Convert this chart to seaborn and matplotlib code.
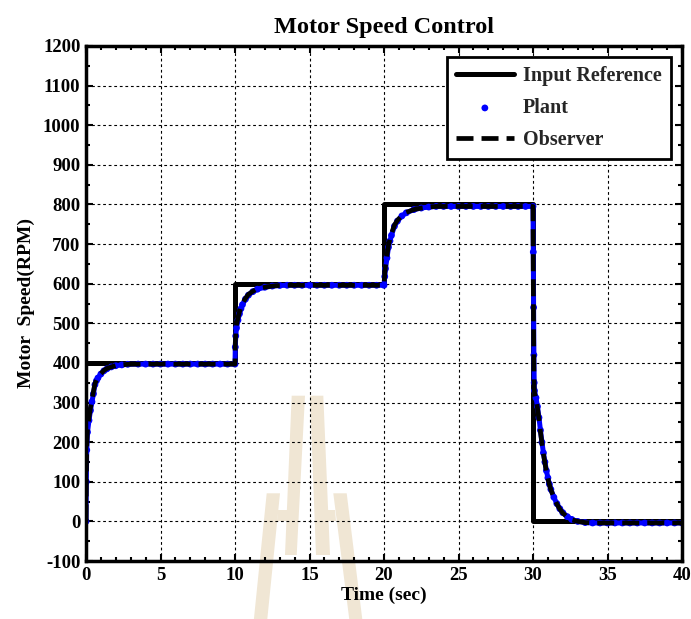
import matplotlib
matplotlib.use("Agg")
import matplotlib.pyplot as plt
from matplotlib.patches import Polygon
from matplotlib.ticker import MultipleLocator
import seaborn as sns
import pandas as pd

# ---------------- data ----------------
ref_time = [0, 10, 10, 20, 20, 30, 30, 40]
ref_speed = [400, 400, 600, 600, 800, 800, 0, 0]

plant_time = [
    0, 0.02, 0.05, 0.1, 0.2, 0.3, 0.4, 0.5, 0.6, 0.7, 0.8, 1.0, 1.2, 1.4, 1.7,
    2.0, 2.4, 2.8, 3.5, 4.0, 4.5, 5.0, 5.5, 6.0, 6.5, 7.0, 7.5, 8.0, 8.5, 9.0, 9.5,
    10.0, 10.02, 10.05, 10.1, 10.2, 10.3, 10.4, 10.5, 10.7, 10.9, 11.2, 11.5, 12.0,
    12.5, 13.0, 13.5, 14.0, 14.5, 15.0, 15.5, 16.0, 16.5, 17.0, 17.5, 18.0, 18.5,
    19.0, 19.5,
    20.0, 20.05, 20.1, 20.2, 20.3, 20.4, 20.5, 20.7, 20.9, 21.2, 21.5, 22.0, 22.5,
    23.0, 23.5, 24.0, 24.5, 25.0, 25.5, 26.0, 26.5, 27.0, 27.5, 28.0, 28.5, 29.0,
    29.5,
    30.0, 30.02, 30.04, 30.06, 30.08, 30.1, 30.2, 30.3, 30.4, 30.5, 30.6, 30.7,
    30.8, 30.9, 31.0, 31.1, 31.2, 31.4, 31.6, 31.8, 32.0, 32.3, 32.6, 33.0, 33.5,
    34.0, 34.5, 35.0, 35.5, 36.0, 36.5, 37.0, 37.5, 38.0, 38.5, 39.0, 39.5, 40.0,
]
plant_speed = [
    0, 100, 180, 225, 255, 280, 302, 322, 345, 355, 362, 372, 380, 385, 390,
    393, 395, 396.5, 397, 397, 397, 397, 397, 397, 397, 397, 397, 397, 397, 397, 397,
    397, 440, 468, 488, 508, 524, 537, 547, 561, 571, 580, 586, 591,
    594, 595.5, 596, 596, 596, 596, 596, 596, 596, 596, 596, 596, 596,
    596, 596,
    596, 618, 638, 665, 692, 708, 722, 745, 758, 771, 779, 787, 791,
    793.5, 795, 795, 795, 795, 795, 795, 795, 795, 795, 795, 795, 795,
    795,
    795, 680, 540, 420, 350, 330, 312, 290, 262, 230, 200, 173,
    150, 128, 110, 94, 81, 61, 45, 32, 22, 12, 5, 0, -3,
    -4, -4, -4, -4, -4, -4, -4, -4, -4, -4, -4, -4, -4,
]
observer_speed = [
    0, 110, 190, 232, 262, 287, 308, 328, 348, 357, 364, 373, 381, 386, 390,
    393, 395, 396.5, 397, 397, 397, 397, 397, 397, 397, 397, 397, 397, 397, 397, 397,
    397, 450, 478, 496, 514, 529, 541, 550, 563, 573, 581, 587, 591,
    594, 595.5, 596, 596, 596, 596, 596, 596, 596, 596, 596, 596, 596,
    596, 596,
    596, 625, 645, 672, 697, 712, 726, 748, 760, 772, 780, 787, 791,
    793.5, 795, 795, 795, 795, 795, 795, 795, 795, 795, 795, 795, 795,
    795,
    795, 620, 470, 380, 335, 325, 308, 286, 258, 226, 197, 170,
    147, 126, 108, 93, 80, 60, 44, 31, 21, 11, 4, 0, -3,
    -4, -4, -4, -4, -4, -4, -4, -4, -4, -4, -4, -4, -4,
]
x_ticks = list(range(0, 41, 5))
y_ticks = list(range(-100, 1201, 100))

assert len(plant_time) == len(plant_speed) == len(observer_speed)

# ---------------- style ----------------
sns.set_theme(style="ticks")
plt.rcParams["font.family"] = ["Liberation Serif", "DejaVu Serif"]
plt.rcParams["font.weight"] = "bold"
plt.rcParams["axes.labelweight"] = "bold"
plt.rcParams["axes.titleweight"] = "bold"
plt.rcParams["axes.unicode_minus"] = False

W, H = 691, 619
fig = plt.figure(figsize=(W / 100, H / 100), dpi=100, facecolor="white")
ax = fig.add_axes([86 / W, 1 - 561 / H, (682 - 86) / W, (561 - 46) / H])
ax.patch.set_alpha(0)

# watermark (decorative, behind the axes)
def px(pts):
    return [(x / W, 1 - y / H) for x, y in pts]

wm_color = "#F0E6D4"
shapes = [
    [(291.7, 395.7), (305, 395.7), (296.7, 555), (285, 555)],
    [(310, 395.7), (323.3, 395.7), (330, 555), (316, 555)],
    [(266.7, 493.3), (280, 493.3), (266.7, 625), (253.3, 625)],
    [(333.3, 493.3), (346.7, 493.3), (363, 625), (350, 625)],
    [(278, 510), (294, 510), (293.5, 521), (277, 521)],
    [(322, 510), (335, 510), (336, 521), (322.5, 521)],
]
for s in shapes:
    fig.patches.append(Polygon(px(s), closed=True, transform=fig.transFigure,
                               facecolor=wm_color, edgecolor="none", zorder=-5))

df_ref = pd.DataFrame({"t": ref_time, "v": ref_speed})
df_pl = pd.DataFrame({"t": plant_time, "v": plant_speed, "o": observer_speed})

sns.lineplot(data=df_ref, x="t", y="v", ax=ax, color="black", lw=3.6,
             estimator=None, sort=False, label="Input Reference", zorder=3)
sns.lineplot(data=df_pl, x="t", y="v", ax=ax, color="#0000FF", lw=3.6,
             estimator=None, sort=False, label="_nolegend_", zorder=4)
sns.scatterplot(data=df_pl, x="t", y="v", ax=ax, color="#0000FF", s=24,
                edgecolor="none", label="Plant", zorder=5)
sns.lineplot(data=df_pl, x="t", y="o", ax=ax, color="black", lw=3.4,
             estimator=None, sort=False, label="Observer", zorder=6)
ax.lines[-1].set_dashes((3.6, 1.7))

ax.set_xlim(0, 40)
ax.set_ylim(-100, 1200)
ax.set_xticks(x_ticks)
ax.set_yticks(y_ticks)
ax.xaxis.set_minor_locator(MultipleLocator(1))
ax.yaxis.set_minor_locator(MultipleLocator(50))
ax.tick_params(which="both", direction="in", top=True, right=True,
               color="black", width=1.5, labelsize=13.5, labelcolor="black")
ax.tick_params(which="major", length=5, pad=4)
ax.tick_params(which="minor", length=3)
for lab in ax.get_xticklabels() + ax.get_yticklabels():
    lab.set_fontweight("bold")
for sp in ax.spines.values():
    sp.set_linewidth(2.5)
    sp.set_color("black")
    sp.set_zorder(10)
ax.grid(True, which="major", color="black", linestyle=(0, (2.5, 2.5)), lw=0.8)
ax.set_axisbelow(True)

ax.set_title("Motor Speed Control", fontsize=17.5, fontweight="bold", color="black", pad=9)
ax.set_xlabel("Time (sec)", fontsize=14, fontweight="bold", color="black", labelpad=2)
ax.set_ylabel("Motor  Speed(RPM)", fontsize=14, fontweight="bold", color="black", labelpad=6)

leg = ax.legend(loc="upper right", frameon=True, fancybox=False,
                edgecolor="black", framealpha=1, handlelength=2.9,
                labelspacing=0.6, borderaxespad=0.55, borderpad=0.45,
                handletextpad=0.45, markerscale=1.0,
                prop={"family": ["Liberation Serif"], "weight": "bold", "size": 14.5})
leg.get_frame().set_linewidth(2.0)
leg.set_zorder(20)

fig.savefig("out.png", dpi=100, facecolor="white")
